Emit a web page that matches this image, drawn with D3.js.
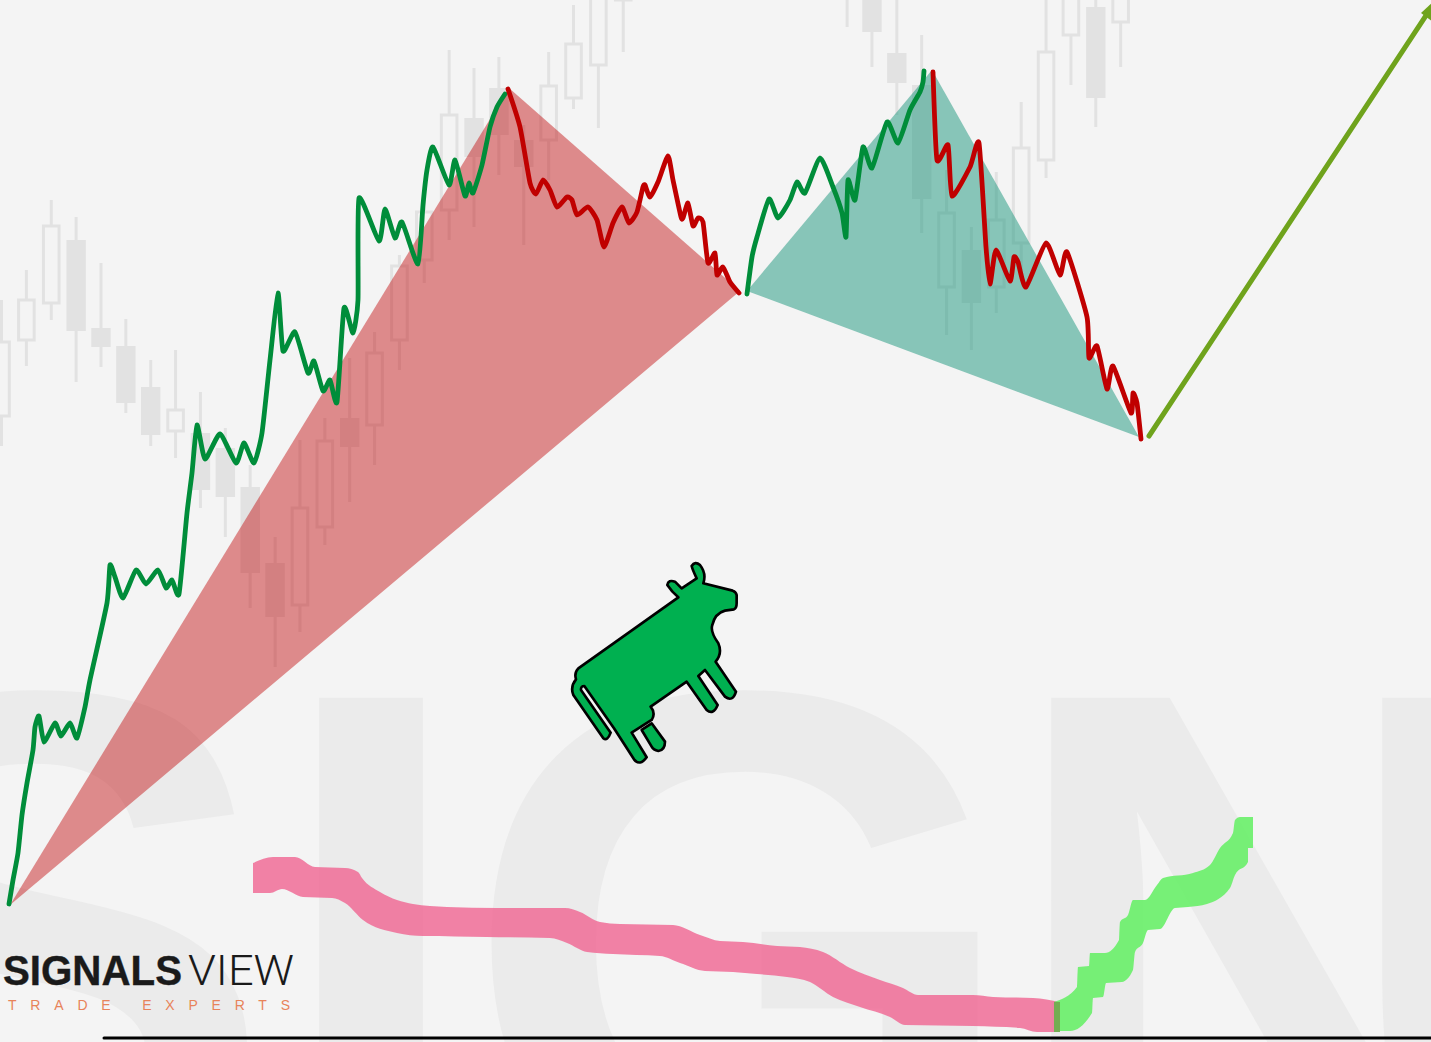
<!DOCTYPE html>
<html>
<head>
<meta charset="utf-8">
<script src="https://cdnjs.cloudflare.com/ajax/libs/d3/7.9.0/d3.min.js"></script>
<style>
html,body{margin:0;padding:0;background:#f4f4f4;overflow:hidden}
svg{display:block}
</style>
</head>
<body>
<div id="chart"></div>
<script>
// ---- candles (index, price levels) ----
const candleIndex = [0,1,2,3,4,5,6,7,8,9,10,11,12,13,14,15,16,17,18,19,20,21,22,23,24,25,34,35,36,37,38,39,40,41,42,43,44,45];
const candleHigh  = [742,772,842,825,779,723,682,692,650,614,577,505,602,624,684,710,787,852,992,974,985,917,990,1037,1092,1092,1092,1092,1052,1007,872,815,870,940,1052,1092,1072,1092];
const candleLow   = [596,676,722,660,675,629,596,584,534,505,434,375,410,497,540,577,672,759,802,815,867,797,862,933,914,990,1015,975,927,809,707,692,729,772,864,957,915,975];
const candleTop   = [700,742,816,802,714,696,655,632,609,594,555,479,534,601,624,689,776,830,927,924,954,902,956,998,1062,1072,1082,1072,989,957,829,792,822,894,990,1062,1035,1072];
const candleBot   = [626,702,739,711,695,639,607,611,552,545,469,425,437,515,595,617,702,782,832,885,907,875,902,944,977,1042,1052,1010,959,843,755,739,755,799,882,1007,944,1020];
const candleUp    = [1,1,1,0,0,0,0,1,0,0,0,0,1,1,0,1,1,1,1,0,0,0,1,1,1,1,1,0,0,0,1,0,1,1,1,1,0,1];

// ---- price paths ----
const riseAT = [9,13,18,22,27,33,35,39,44,55,61,70,77,85,90,107,110,115,123,136,146,158,166,172,179,187,192,197,205,220,236,244,254,262,270,278,283,295,308,314,323,330,337,344,353,358,359,379,385,395,402,418,423,427,433,449,455,465,469,473,482,490,497,505];
const riseAP = [138,162,189,227,259,292,315,326,300,319,306,319,304,335,362,439,477,465,444,472,458,472,454,462,448,529,569,617,583,608,579,599,579,609,682,749,691,710,669,681,651,662,640,734,709,742,844,801,833,804,820,778,837,872,895,857,882,846,859,849,877,915,935,948];
const fallAT = [508,520,530,536,543,550,557,567,572,577,588,597,604,613,622,629,637,643,645,650,658,668,673,681,683,688,693,698,703,708,715,717,723,730,739];
const fallAP = [953,915,859,848,862,852,835,845,842,827,835,822,795,819,835,819,830,855,857,845,860,886,862,825,824,839,816,824,820,779,789,767,775,760,749];
const riseBT = [747,752,757,769,778,790,797,805,820,833,842,846,848,855,863,872,887,898,910,920,923,924];
const riseBP = [748,785,805,843,824,842,860,849,884,855,829,805,862,842,895,874,920,899,932,950,960,971];
const fallBT = [933,937,948,952,970,979,986,990,996,1010,1014,1018,1026,1046,1060,1067,1087,1089,1097,1107,1113,1131,1133,1137,1141];
const fallBP = [970,882,897,846,875,899,795,758,792,761,785,780,755,799,767,790,725,684,696,653,676,629,649,639,603];

// ---- swing wedges and projection ----
const wedgeRedT = [10,509,740];
const wedgeRedP = [137,954,751];
const wedgeTealT = [747,932,1139];
const wedgeTealP = [751,972,605];
const projectionT = [1149,1431];
const projectionP = [606,1034];
const projectionHeadT = [1421,1433,1433];
const projectionHeadP = [1029,1040,1020];

// ---- lower oscillator ribbons ----
const pinkUpperT = [253,273,295,315,345,358,362,380,397,413,447,497,565,580,600,620,673,700,720,743,777,800,823,850,880,903,918,973,993,1033,1060];
const pinkUpperP = [179,185,185,175,174,170,164,150,142,138,135,134,134,130,120,118,117,107,101,100,96,95,90,74,62,54,47,47,45,44,40];
const pinkLowerT = [253,270,282,303,332,345,363,397,423,487,550,567,587,613,660,680,705,733,757,787,810,833,860,890,905,973,1020,1037,1060];
const pinkLowerP = [149,149,153,145,144,139,122,109,106,105,104,99,90,88,86,79,71,70,68,65,60,45,35,25,17,16,14,10,10];
const greenUpperT = [1054,1077,1078,1089,1090,1105,1119,1120,1128,1133,1145,1157,1163,1193,1210,1220,1233,1235,1240,1253];
const greenUpperP = [40,55,75,76,89,89,102,120,127,142,142,157,164,169,177,194,209,222,225,225];
const greenLowerT = [1054,1070,1092,1093,1103,1106,1122,1133,1135,1143,1148,1160,1175,1188,1207,1230,1235,1248,1248,1253];
const greenLowerP = [11,11,29,44,45,59,60,72,90,99,112,113,134,135,138,154,167,180,194,194];
const ribbonOverlapT = [1054,1060,1060,1054];
const ribbonOverlapP = [40,40,10,10];

// ---- text ----
const watermarkLetters = ["S","I","G","N"];
const logoBold = "SIGNALS";
const logoLight = "VIEW";
const logoTagline = "TRADE EXPERTS";

const WIDTH = 1431, HEIGHT = 1042;
const candleX = d3.scaleLinear().domain([0,45]).range([1.5,1120.65]);
const timeX = d3.scaleLinear().domain([0,WIDTH]).range([0,WIDTH]);
const priceY = d3.scaleLinear().domain([0,HEIGHT]).range([HEIGHT,0]);

const svg = d3.select("#chart").append("svg").attr("width",WIDTH).attr("height",HEIGHT).style("background","#f4f4f4");

// watermark
const wmX = [-205,271,462,1003];
svg.append("text")
  .attr("y",1193)
  .attr("x",wmX.join(" "))
  .attr("font-family","'Liberation Sans',Arial,sans-serif")
  .attr("font-weight",700)
  .attr("font-size",720)
  .attr("fill","#ebebeb")
  .text(watermarkLetters.join(""));

// candles
const candleColor = "#e2e2e2";
const cg = svg.append("g");
candleIndex.forEach((c,i)=>{
  const x = candleX(c);
  const up = candleUp[i];
  cg.append("line").attr("x1",x).attr("x2",x)
    .attr("y1",priceY(candleHigh[i])).attr("y2",priceY(candleLow[i]))
    .attr("stroke",candleColor).attr("stroke-width",3);
  const t = priceY(candleTop[i]), b = priceY(candleBot[i]);
  if(up){
    cg.append("rect").attr("x",x-7.8).attr("width",15.6).attr("y",t).attr("height",b-t)
      .attr("fill","#f4f4f4").attr("stroke",candleColor).attr("stroke-width",3);
  } else {
    cg.append("rect").attr("x",x-9.7).attr("width",19.4).attr("y",t).attr("height",b-t)
      .attr("fill",candleColor);
  }
});

// wedges
const poly = d3.line().x(d=>timeX(d[0])).y(d=>priceY(d[1]));
svg.append("path").attr("d",poly(d3.zip(wedgeRedT,wedgeRedP))+"Z").attr("fill","rgb(191,0,2)").attr("fill-opacity",0.434);
svg.append("path").attr("d",poly(d3.zip(wedgeTealT,wedgeTealP))+"Z").attr("fill","rgb(26,150,124)").attr("fill-opacity",0.5);

// price paths
const smooth = d3.line().x(d=>timeX(d[0])).y(d=>priceY(d[1])).curve(d3.curveCardinal.tension(0.45));
function drawPath(t,p,color,w){
  svg.append("path").attr("d",smooth(d3.zip(t,p))).attr("fill","none").attr("stroke",color)
    .attr("stroke-width",w).attr("stroke-linejoin","round").attr("stroke-linecap","round");
}
drawPath(riseAT,riseAP,"#008d3a",4.8);
drawPath(fallAT,fallAP,"#c00000",4.8);
drawPath(riseBT,riseBP,"#008d3a",4.8);
drawPath(fallBT,fallBP,"#c00000",4.8);
svg.append("path").attr("d",poly(d3.zip(projectionT,projectionP))).attr("fill","none").attr("stroke","#6fa31c").attr("stroke-width",5).attr("stroke-linecap","round");
svg.append("path").attr("d",poly(d3.zip(projectionHeadT,projectionHeadP))+"Z").attr("fill","#6fa31c");

// bull icon
svg.append("g").attr("transform","translate(550,550) scale(0.3333)").call(g=>{
  const st = {fill:"#00b050",stroke:"#000","stroke-width":8,"stroke-linejoin":"round"};
  const body = "M385,142 L85,355 Q72,368 78,388 Q60,410 70,435 L160,565 Q172,575 182,548 L93,420 Q92,408 103,408 L192,535 L252,628 Q270,650 290,622 L245,548 L305,510 Q318,490 302,470 L410,395 L470,480 Q490,497 503,465 L445,378 L465,360 L525,440 Q548,458 558,425 L497,335 Q518,310 505,280 Q480,245 487,225 Q495,190 525,182 L552,178 Q560,175 560,160 L560,135 Q558,125 548,122 L460,100 Q470,70 450,45 Q435,32 425,48 Q428,60 440,85 L395,115 L375,95 Q355,88 352,105 Q365,125 385,142 Z";
  const hind = "M275,540 L305,520 L345,575 Q345,600 325,603 Q310,600 305,590 Z";
  [hind,body].forEach(d=>{const p=g.append("path").attr("d",d);Object.entries(st).forEach(([k,v])=>p.attr(k,v));});
});

// ribbons
const edge = d3.line().x(d=>timeX(d[0])).y(d=>priceY(d[1])).curve(d3.curveMonotoneX);
function ribbon(ut,up,lt,lp,color,op){
  const top = edge(d3.zip(ut,up));
  const bot = edge(d3.zip(lt,lp).reverse()) ;
  svg.append("path").attr("d",top+"L"+bot.slice(1)+"Z").attr("fill",color).attr("fill-opacity",op);
}
ribbon(pinkUpperT,pinkUpperP,pinkLowerT,pinkLowerP,"rgb(240,108,150)",0.85);
ribbon(greenUpperT,greenUpperP,greenLowerT,greenLowerP,"rgb(105,240,105)",0.9);
svg.append("path").attr("d",poly(d3.zip(ribbonOverlapT,ribbonOverlapP))+"Z").attr("fill","#74ad52");

// baseline
svg.append("line").attr("x1",timeX(104)).attr("x2",timeX(1431)).attr("y1",priceY(4)).attr("y2",priceY(4)).attr("stroke","#000").attr("stroke-width",3).attr("stroke-linecap","round");

// logo
svg.append("text").attr("x",3).attr("y",985).attr("font-family","'Liberation Sans',Arial,sans-serif").attr("font-weight",700).attr("font-size",43)
  .attr("fill","#1a1a1a").attr("stroke","#1a1a1a").attr("stroke-width",0.4).attr("textLength",179).attr("lengthAdjust","spacingAndGlyphs").text(logoBold);
svg.append("text").attr("x",188).attr("y",985).attr("font-family","Roboto,'Liberation Sans',sans-serif").attr("font-weight",300).attr("font-size",43)
  .attr("fill","#1a1a1a").attr("textLength",106).attr("lengthAdjust","spacingAndGlyphs").text(logoLight);
svg.append("text").attr("x",8).attr("y",1009.5).attr("font-family","'Liberation Sans',Arial,sans-serif").attr("font-size",14)
  .attr("fill","#e8835a").attr("textLength",282).attr("lengthAdjust","spacing").text(logoTagline);
</script>
</body>
</html>
